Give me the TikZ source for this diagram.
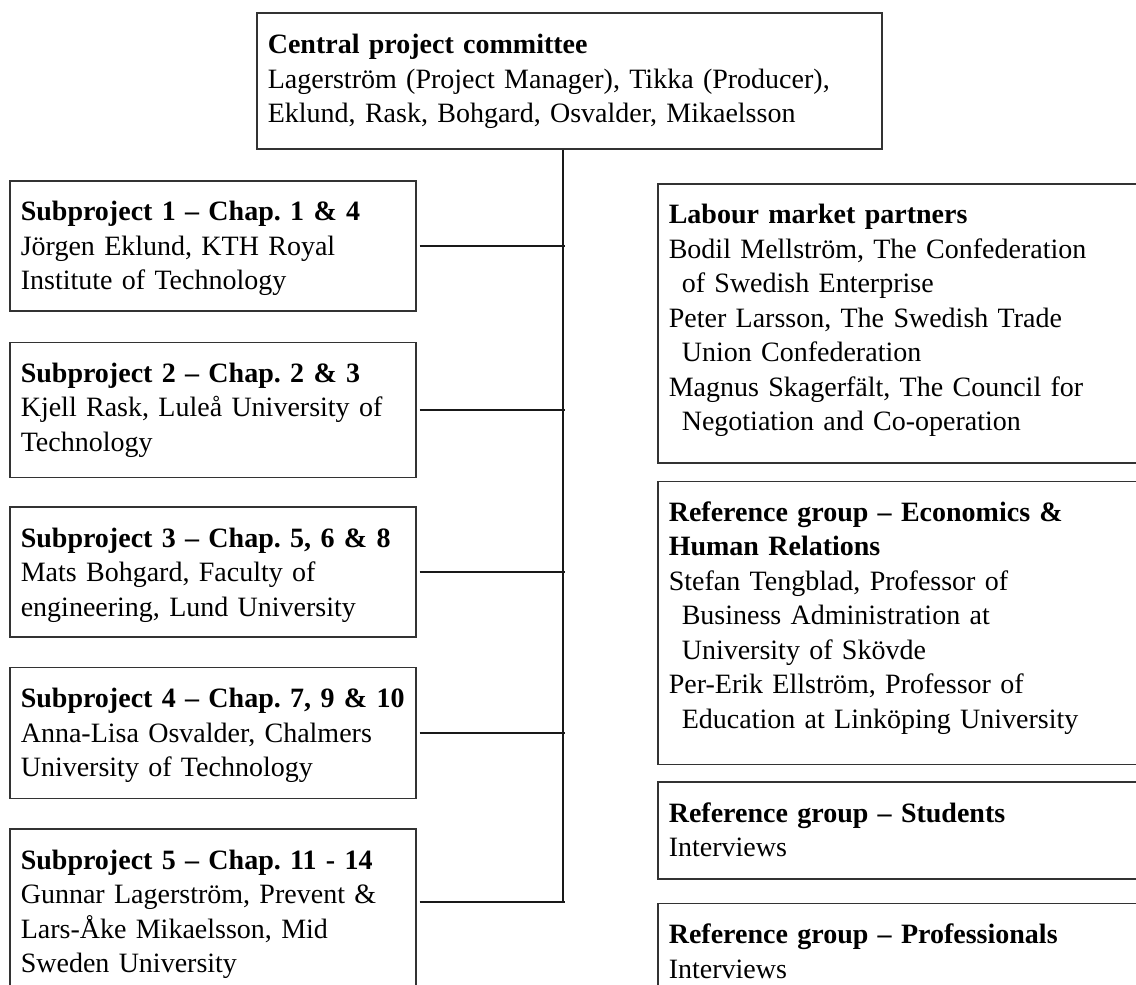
\documentclass[tikz,border=0pt]{standalone}
\usepackage{fontspec}
\setmainfont{Liberation Serif}
\usetikzlibrary{positioning}
\tikzset{
  box/.style={rectangle,draw=black!80,line width=0.8pt,anchor=north west,inner xsep=5.5pt,inner ysep=0pt,align=left,text height=20pt,font=\fontsize{14}{17.25}\selectfont\frenchspacing},
  lbox/.style={box,text width=192pt},
  rbox/.style={box,text width=269pt},
  conn/.style={draw=black!90,line width=1pt},
}
\newcommand{\ind}{\hspace*{6.5pt}}

\begin{document}
\begin{tikzpicture}[x=0.5pt,y=-0.5pt,node distance=14.5pt]
  \useasboundingbox (0,0) rectangle (1136,985);
  \clip (0,0) rectangle (1136,985);
  \node[box,text width=301.5pt,text height=20.5pt,text depth=47.5pt] (cpc) at (256,12) {\textbf{Central project committee}\\Lagerström (Project Manager), Tikka (Producer),\\Eklund, Rask, Bohgard, Osvalder, Mikaelsson};
  \node[lbox,text depth=45pt] (sub1) at (9,180) {\mbox{\textbf{Subproject 1 – Chap. 1 \& 4}}\\Jörgen Eklund, KTH Royal\\Institute of Technology};
  \node[lbox,text depth=47.5pt,below=15pt of sub1] (sub2) {\mbox{\textbf{Subproject 2 – Chap. 2 \& 3}}\\Kjell Rask, Luleå University of\\Technology};
  \node[lbox,text depth=45pt,below=14pt of sub2] (sub3) {\mbox{\textbf{Subproject 3 – Chap. 5, 6 \& 8}}\\Mats Bohgard, Faculty of\\engineering, Lund University};
  \node[lbox,text depth=45.5pt,below=of sub3] (sub4) {\mbox{\textbf{Subproject 4 – Chap. 7, 9 \& 10}}\\Anna-Lisa Osvalder, Chalmers\\University of Technology};
  \node[lbox,text depth=80pt,below=of sub4] (sub5) {\mbox{\textbf{Subproject 5 – Chap. 11 - 14}}\\Gunnar Lagerström, Prevent \&\\Lars-Åke Mikaelsson, Mid\\Sweden University};
  \node[rbox,text depth=119.5pt] (lmp) at (657,183) {\textbf{Labour market partners}\\Bodil Mellström, The Confederation\\\ind of Swedish Enterprise\\Peter Larsson, The Swedish Trade\\\ind Union Confederation\\Magnus Skagerfält, The Council for\\\ind Negotiation and Co-operation};
  \node[rbox,text depth=121.5pt,below=8.5pt of lmp] (rgeh) {\textbf{Reference group – Economics \&}\\\textbf{Human Relations}\\Stefan Tengblad, Professor of\\\ind Business Administration at\\\ind University of Skövde\\Per-Erik Ellström, Professor of\\\ind Education at Linköping University};
  \node[rbox,text depth=28.5pt,below=8pt of rgeh] (rgs) {\textbf{Reference group – Students}\\Interviews};
  \node[rbox,text depth=80pt,below=11.5pt of rgs] (rgp) {\textbf{Reference group – Professionals}\\Interviews};
  \coordinate (end) at (563,902);
  \draw[conn] (cpc.south -| end) -- (end);
  \foreach \s in {sub1,sub2,sub3,sub4}
    \draw[conn,shorten <=1.5pt,shorten >=-1pt] (\s.east) -- (\s -| end);
  \draw[conn,shorten <=1.5pt,shorten >=-1pt] (sub5.east |- end) -- (end);
\end{tikzpicture}
\end{document}
